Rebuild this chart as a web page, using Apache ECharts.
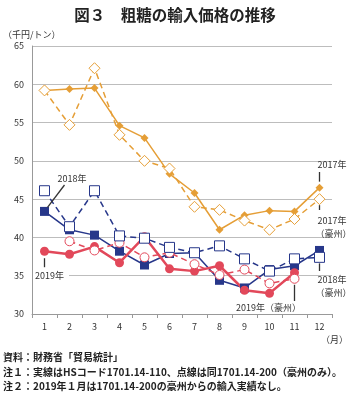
<!DOCTYPE html>
<html>
<head>
<meta charset="utf-8">
<script src="https://cdn.jsdelivr.net/npm/echarts@6/dist/echarts.min.js"></script>
<style>
  html, body { margin: 0; padding: 0; background: #fff; }
  #chart { width: 350px; height: 396px; }
</style>
</head>
<body>
<div id="chart"></div>
<script>
// 月
var months = ['1', '2', '3', '4', '5', '6', '7', '8', '9', '10', '11', '12'];
var yTicks = [30, 35, 40, 45, 50, 55, 60, 65];

// 実線 = HS 1701.14-110、点線 = 1701.14-200（豪州）
var y2017 = [59.2, 59.4, 59.5, 54.6, 53.0, 48.3, 45.8, 41.0, 42.9, 43.5, 43.4, 46.5];
var y2017au = [59.2, 54.7, 62.1, 53.4, 50.0, 49.0, 44.0, 43.6, 42.2, 41.0, 42.4, 45.0];
var y2018 = [43.4, 41.0, 40.3, 38.2, 36.4, 37.9, 38.0, 34.4, 33.4, 35.8, 36.3, 38.3];
var y2018au = [46.1, 41.4, 46.1, 40.2, 39.9, 38.7, 38.0, 38.9, 37.2, 35.6, 37.2, 37.4];
var y2019 = [38.2, 37.8, 38.8, 36.7, 40.1, 35.9, 35.6, 36.3, 33.1, 32.7, 35.4, null];
var y2019au = [null, 39.5, 38.3, 39.3, 37.4, 38.0, 36.5, 35.1, 35.8, 34.0, 34.6, null];

var ORANGE = '#E59E36', NAVY = '#27378A', RED = '#E2485A';
var JP = '"Noto Sans CJK JP", sans-serif';

var chart = echarts.init(document.getElementById('chart'));

function solid(name, data, color, symbol, size, width) {
    return {
        name: name, type: 'line', data: data, symbol: symbol, symbolSize: size,
        lineStyle: {color: color, width: width},
        itemStyle: {color: color, borderColor: color, borderWidth: 0},
        connectNulls: false, animation: false, z: 3
    };
}
function dashed(name, data, color, symbol, size) {
    return {
        name: name, type: 'line', data: data, symbol: symbol, symbolSize: size,
        showAllSymbol: true,
        lineStyle: {color: color, width: 1.5, type: [6, 4]},
        itemStyle: {color: '#fff', borderColor: color, borderWidth: 1},
        animation: false, z: 4
    };
}

chart.setOption({
    animation: false,
    title: {
        text: '図３　粗糖の輸入価格の推移',
        left: 'center', top: 2,
        textStyle: {fontFamily: JP, fontSize: 15.5, fontWeight: 'bold', color: '#222'}
    },
    grid: {left: 32, right: 18, top: 46, bottom: 82},
    xAxis: {
        type: 'category', data: months, boundaryGap: true,
        axisLine: {lineStyle: {color: '#999', width: 1}},
        axisTick: {show: true, inside: false, length: 4, lineStyle: {color: '#999'}},
        axisLabel: {color: '#333', fontSize: 9, fontFamily: JP, margin: 8}
    },
    yAxis: {
        type: 'value', min: 30, max: 65, interval: 5,
        axisLine: {show: true, lineStyle: {color: '#999'}},
        axisTick: {show: false},
        axisLabel: {color: '#333', fontSize: 9, fontFamily: JP, margin: 8,
            formatter: function (v) { return yTicks.indexOf(v) >= 0 ? v : ''; }},
        splitLine: {lineStyle: {color: '#bdbdbd', width: 1}}
    },
    series: [
        dashed('2019年（豪州）', y2019au, RED, 'circle', 9),
        dashed('2018年（豪州）', y2018au, NAVY, 'rect', 10),
        dashed('2017年（豪州）', y2017au, ORANGE, 'diamond', 11),
        solid('2018年', y2018, NAVY, 'rect', 9, 1.5),
        solid('2019年', y2019, RED, 'circle', 9, 2.5),
        solid('2017年', y2017, ORANGE, 'diamond', 8, 1.5)
    ]
});

// 注記（ラベルと引き出し線）
function px(i, v) { return chart.convertToPixel({xAxisIndex: 0, yAxisIndex: 0}, [i, v]); }
var txt = {fontFamily: JP, fontSize: 9, fill: '#333'};
var p18 = px(0, y2018[0]), p19 = px(0, y2019[0]), p19au = px(10, y2019au[10]);
var e17 = px(11, y2017[11]), e17au = px(11, y2017au[11]), e18 = px(11, y2018au[11]);
var ln = {stroke: '#333', lineWidth: 1.3};

function t(x, y, s, align) {
    return {type: 'text', x: x, y: y, style: Object.assign({text: s, textAlign: align || 'left', textVerticalAlign: 'middle'}, txt), z: 10};
}
function l(x1, y1, x2, y2) {
    return {type: 'line', shape: {x1: x1, y1: y1, x2: x2, y2: y2}, style: ln, z: 10};
}

chart.setOption({
    graphic: [
        t(3, 35, '（千円/トン）'),
        t(p18[0] + 13, 179, '2018年'),
        l(p18[0] + 20, 185, p18[0] + 3, p18[1] - 4),
        {type: 'rect', shape: {x: 33, y: 270, width: 36, height: 12}, style: {fill: '#fff'}, z: 9},
        t(35, 276, '2019年'),
        l(p19[0], p19[1] + 7, p19[0], p19[1] + 16),
        {type: 'rect', shape: {x: 230, y: 301, width: 72, height: 13}, style: {fill: '#fff'}, z: 9},
        t(236, 308, '2019年（豪州）'),
        l(p19au[0], p19au[1] + 6, p19au[0], 301),
        t(e17[0] - 2, 165, '2017年'),
        l(e17[0], 172, e17[0], e17[1] - 6),
        l(e17au[0], e17au[1] + 6, e17au[0], 210),
        t(e17au[0] - 2, 221, '2017年'),
        t(e17au[0] - 4, 234, '（豪州）'),
        l(e18[0], e18[1] + 6, e18[0], 271),
        t(e18[0] - 2, 280, '2018年'),
        t(e18[0] - 4, 293, '（豪州）'),
        t(348, 340, '（月）', 'right'),
        {type: 'text', x: 3, y: 350, style: Object.assign({}, txt, {
            text: '資料：財務省「貿易統計」\n注１：実線はHSコード1701.14-110、点線は同1701.14-200（豪州のみ）。\n注２：2019年１月は1701.14-200の豪州からの輸入実績なし。',
            fontSize: 10, fontWeight: 'bold', lineHeight: 14.5, fill: '#222'
        })}
    ]
});
</script>
</body>
</html>
